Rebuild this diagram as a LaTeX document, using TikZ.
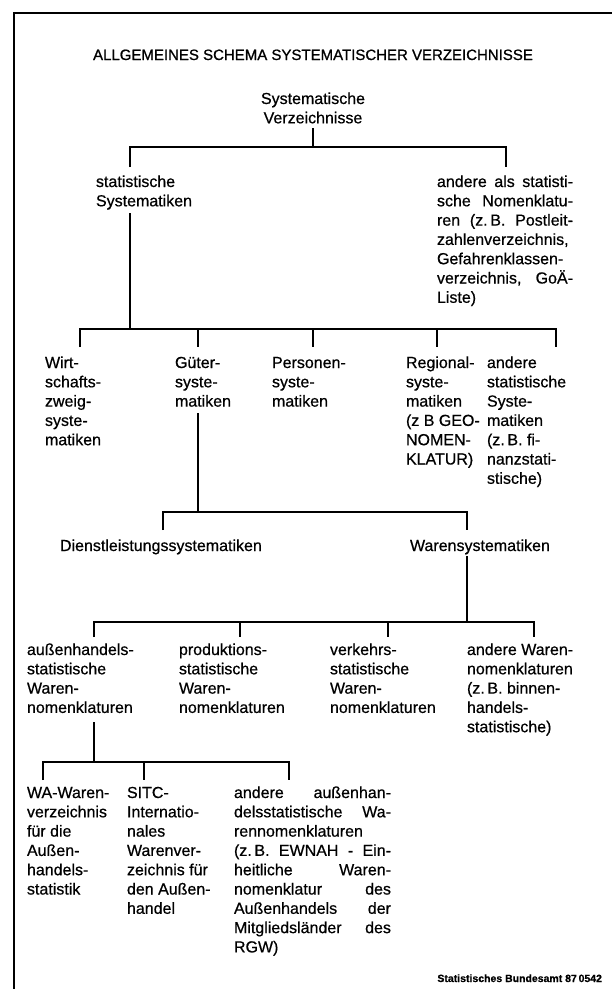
\documentclass[tikz,border=0pt]{standalone}
\usepackage{fontspec}
\setmainfont{Liberation Sans}[FakeBold=0.6]
\newfontfamily\titlefont{Liberation Sans}[FakeBold=1.0]
% a line stretched to the full column width (justified setting)
\newcommand\justline[1]{\makebox[\linewidth][s]{#1}}
\begin{document}
\begin{tikzpicture}[x=1pt,y=-1pt,
  lbl/.style={inner sep=0pt, outer sep=0pt, anchor=base west,
              font=\fontsize{16}{19.3}\selectfont},
  rootlbl/.style={inner sep=0pt, outer sep=0pt, anchor=base,
              font=\fontsize{16}{19.3}\selectfont},
  titlelbl/.style={inner sep=0pt, outer sep=0pt, anchor=base,
              font=\titlefont\fontsize{15}{18}\selectfont},
  footlbl/.style={inner sep=0pt, outer sep=0pt, anchor=base east,
              font=\fontsize{10.5}{12}\selectfont\bfseries},
  tree/.style={line width=1.6pt},
  frameline/.style={line width=2pt}]

\useasboundingbox (0,0) rectangle (614,989);

% frame: top and left edge
\draw[frameline] (14,989) -- (14,13) -- (612,13);

% title
\node[titlelbl] (title) at (313,60) {ALLGEMEINES SCHEMA SYSTEMATISCHER VERZEICHNISSE};

% ---- level 0
\node[rootlbl] (root) at (313,104) {\parbox[t]{130pt}{\centering Systematische\\Verzeichnisse}};

% ---- level 1
\node[lbl] (stat) at (96,187) {\parbox[t]{120pt}{statistische\\Systematiken}};
\node[lbl] (nonstat) at (437,187) {\parbox[t]{136pt}{%
  \justline{andere als statisti-}\\
  \justline{sche Nomenklatu-}\\
  \justline{ren (z.\,B. Postleit-}\\
  zahlenverzeichnis,\\
  Gefahrenklassen-\\
  \justline{verzeichnis, GoÄ-}\\
  Liste)}};

% ---- level 2
\node[lbl] (wirt) at (45,368) {\parbox[t]{110pt}{Wirt-\\schafts-\\zweig-\\syste-\\matiken}};
\node[lbl] (gueter) at (175,368) {\parbox[t]{90pt}{Güter-\\syste-\\matiken}};
\node[lbl] (pers) at (272,368) {\parbox[t]{100pt}{Personen-\\syste-\\matiken}};
\node[lbl] (regio) at (406,368) {\parbox[t]{80pt}{Regional-\\syste-\\matiken\\(z B GEO-\\NOMEN-\\KLATUR)}};
\node[lbl] (andstat) at (487,368) {\parbox[t]{100pt}{andere\\statistische\\Syste-\\matiken\\(z.\,B. fi-\\nanzstati-\\stische)}};

% ---- level 3
\node[lbl] (dienst) at (60,551) {Dienstleistungssystematiken};
\node[lbl] (waren) at (410,551) {Warensystematiken};

% ---- level 4
\node[lbl] (aussen) at (27,655) {\parbox[t]{140pt}{außenhandels-\\statistische\\Waren-\\nomenklaturen}};
\node[lbl] (prod) at (179,655) {\parbox[t]{140pt}{produktions-\\statistische\\Waren-\\nomenklaturen}};
\node[lbl] (verk) at (330,655) {\parbox[t]{130pt}{verkehrs-\\statistische\\Waren-\\nomenklaturen}};
\node[lbl] (andwaren) at (467,655) {\parbox[t]{130pt}{andere Waren-\\nomenklaturen\\(z.\,B. binnen-\\handels-\\statistische)}};

% ---- level 5
\node[lbl] (wa) at (27,798) {\parbox[t]{100pt}{WA-Waren-\\verzeichnis\\für die\\Außen-\\handels-\\statistik}};
\node[lbl] (sitc) at (127,798) {\parbox[t]{100pt}{SITC-\\Internatio-\\nales\\Warenver-\\zeichnis für\\den Außen-\\handel}};
\node[lbl] (andaussen) at (234,798) {\parbox[t]{157pt}{%
  \justline{andere außenhan-}\\
  \justline{delsstatistische Wa-}\\
  rennomenklaturen\\
  \justline{(z.\,B. EWNAH - Ein-}\\
  \justline{heitliche Waren-}\\
  \justline{nomenklatur des}\\
  \justline{Außenhandels der}\\
  \justline{Mitgliedsländer des}\\
  RGW)}};

% source line
\node[footlbl] (source) at (602,982) {Statistisches Bundesamt 87\,0542};

% ---- junction points of the tree
\coordinate (r0) at (313,128);  \coordinate (j0) at (313,147);
\coordinate (j0l) at (130,147); \coordinate (j0r) at (506,147);
\coordinate (d1a) at (130,167); \coordinate (d1b) at (506,167);

\coordinate (r1) at (130,213);  \coordinate (j1) at (130,329);
\coordinate (j1l) at (80,329);  \coordinate (j1r) at (556,329);
\coordinate (d2a) at (80,347);  \coordinate (d2b) at (198,347);
\coordinate (d2c) at (313,347); \coordinate (d2d) at (437,347);
\coordinate (d2e) at (556,347);
\coordinate (u2b) at (198,329); \coordinate (u2c) at (313,329);
\coordinate (u2d) at (437,329);

\coordinate (r2) at (198,413);  \coordinate (j2) at (198,512);
\coordinate (j2l) at (163,512); \coordinate (j2r) at (467,512);
\coordinate (d3a) at (163,530); \coordinate (d3b) at (467,530);

\coordinate (r3) at (467,556);  \coordinate (j3) at (467,622);
\coordinate (j3l) at (94,622);  \coordinate (j3r) at (534,622);
\coordinate (d4a) at (94,637);  \coordinate (d4b) at (240,637);
\coordinate (d4c) at (388,637); \coordinate (d4d) at (534,637);
\coordinate (u4b) at (240,622); \coordinate (u4c) at (388,622);

\coordinate (r4) at (94,722);   \coordinate (j4) at (94,762);
\coordinate (j4l) at (43,762);  \coordinate (j4r) at (289,762);
\coordinate (d5a) at (43,780);  \coordinate (d5b) at (144,780);
\coordinate (d5c) at (289,780); \coordinate (u5b) at (144,762);

% ---- connectors
\draw[tree] (r0) -- (j0);
\draw[tree] (d1a) -- (j0l) -- (j0r) -- (d1b);

\draw[tree] (r1) -- (j1);
\draw[tree] (d2a) -- (j1l) -- (j1r) -- (d2e);
\draw[tree] (u2b) -- (d2b);
\draw[tree] (u2c) -- (d2c);
\draw[tree] (u2d) -- (d2d);

\draw[tree] (r2) -- (j2);
\draw[tree] (d3a) -- (j2l) -- (j2r) -- (d3b);

\draw[tree] (r3) -- (j3);
\draw[tree] (d4a) -- (j3l) -- (j3r) -- (d4d);
\draw[tree] (u4b) -- (d4b);
\draw[tree] (u4c) -- (d4c);

\draw[tree] (r4) -- (j4);
\draw[tree] (d5a) -- (j4l) -- (j4r) -- (d5c);
\draw[tree] (u5b) -- (d5b);
\end{tikzpicture}
\end{document}
